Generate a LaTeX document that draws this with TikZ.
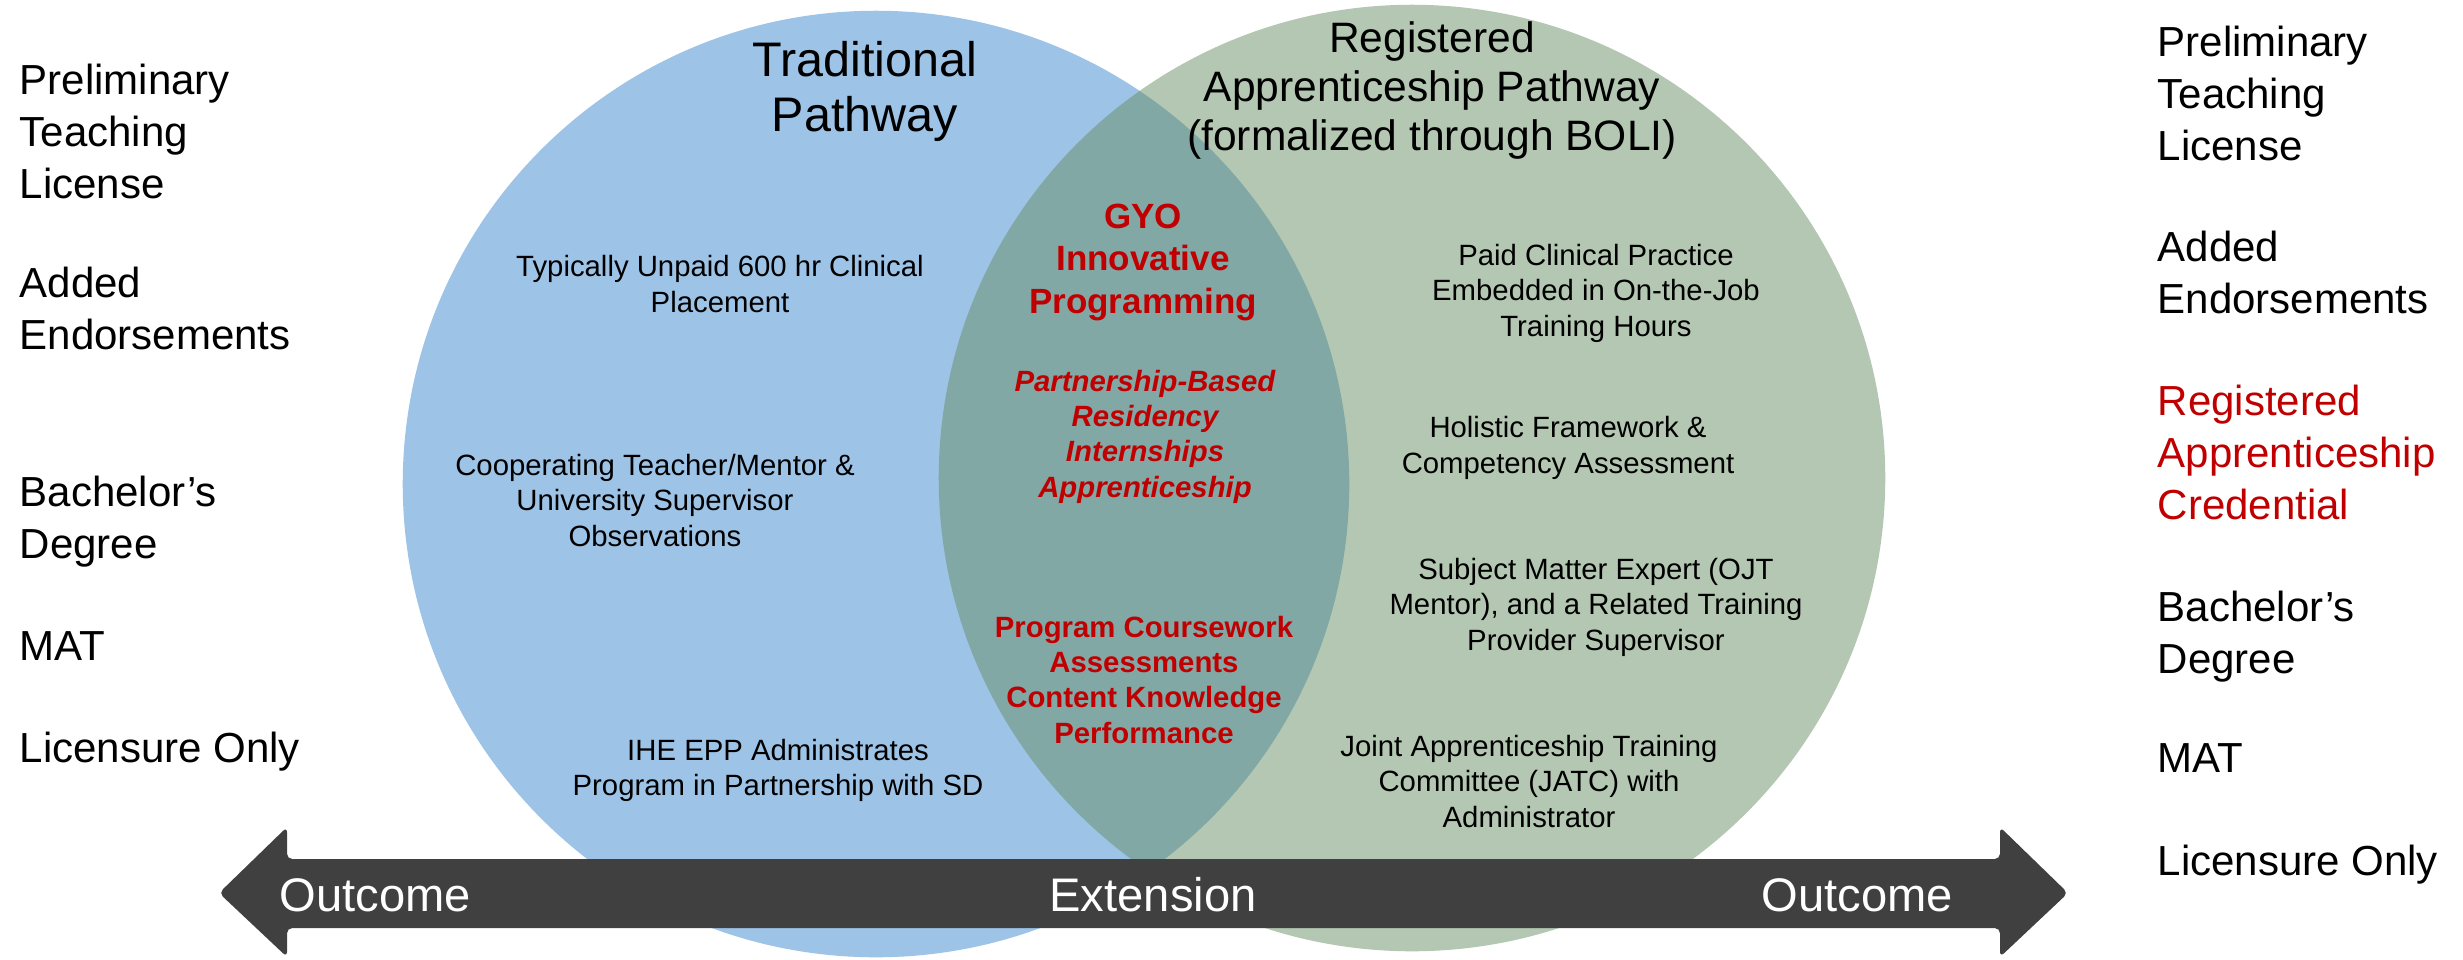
\documentclass[tikz,border=0pt]{standalone}
\usepackage{fontspec}
\setmainfont{Liberation Sans}
\usetikzlibrary{positioning}

\definecolor{tradblue}{RGB}{157,195,230}
\definecolor{appgreen}{RGB}{100,141,98}
\definecolor{gyored}{RGB}{192,0,0}
\definecolor{bandgray}{RGB}{64,64,64}

\tikzset{
  bodytext/.style={align=center, anchor=base, inner sep=0pt,
    font=\fontsize{8.34}{9.96}\selectfont},
  gyotext/.style={bodytext, text=gyored,
    font=\fontsize{8.34}{9.96}\selectfont\bfseries},
  sidelabel/.style={align=left, anchor=base west, inner sep=0pt,
    font=\fontsize{11.95}{14.65}\selectfont},
  bandtext/.style={anchor=base, inner sep=0pt, text=white,
    font=\fontsize{13.4}{16}\selectfont},
}

\begin{document}
\begin{tikzpicture}[x=0.01cm, y=-0.01cm]
    \useasboundingbox (0,0) rectangle (2463,959);
    % the two pathways
    \fill[tradblue] (876,484) circle[radius=4.73cm];
    \fill[appgreen, fill opacity=0.49] (1412,478) circle[radius=4.73cm];
    % outcome / extension band
    \fill[bandgray, rounded corners=1.5pt] (219,893) -- (287,827) -- (287,859)
      -- (2000,859) -- (2000,827) -- (2068,893) -- (2000,957) -- (2000,928)
      -- (287,928) -- (287,957) -- cycle;
    \node[bandtext, anchor=base west] (outleft) at (279,911) {Outcome};
    \node[bandtext] (extension) at (1153,911) {Extension};
    \node[bandtext, anchor=base west] (outright) at (1761,911) {Outcome};

    % titles (nodes sit on the baseline of their last line)
    \node[bodytext, font=\fontsize{13.8}{15.6}\selectfont] (tradtitle) at (865,131)
      {Traditional\\Pathway};
    \node[bodytext, font=\fontsize{12.1}{13.9}\selectfont] (regtitle) at (1432,150)
      {Registered\\Apprenticeship Pathway\\(formalized through BOLI)};

    % traditional side
    \node[bodytext] (unpaid) at (720,312) {Typically Unpaid 600 hr Clinical\\Placement};
    \node[bodytext] (mentor) at (655,546)
      {Cooperating Teacher/Mentor \&\\University Supervisor\\Observations};
    \node[bodytext] (ihe) at (778,795)
      {IHE EPP Administrates\\Program in Partnership with SD};

    % overlap
    \node[gyotext, font=\fontsize{9.96}{11.95}\selectfont\bfseries] (gyo) at (1143,313)
      {GYO\\Innovative\\Programming};
    \node[gyotext, font=\fontsize{8.34}{9.96}\selectfont\bfseries\itshape] (residency) at (1145,497)
      {Partnership-Based\\Residency\\Internships\\Apprenticeship};
    \node[gyotext] (coursework) at (1144,743)
      {Program Coursework\\Assessments\\Content Knowledge\\Performance};

    % apprenticeship side
    \node[bodytext] (paid) at (1596,336)
      {Paid Clinical Practice\\Embedded in On-the-Job\\Training Hours};
    \node[bodytext] (holistic) at (1568,473)
      {Holistic Framework \&\\Competency Assessment};
    \node[bodytext] (expert) at (1596,650)
      {Subject Matter Expert (OJT\\Mentor), and a Related Training\\Provider Supervisor};
    \node[bodytext] (jatc) at (1529,827)
      {Joint Apprenticeship Training\\Committee (JATC) with\\Administrator};

    % outcomes, left
    \node[sidelabel] (lprelim) at (19,198) {Preliminary\\Teaching\\License};
    \node[sidelabel] (ladded) at (19,349) {Added\\Endorsements};
    \node[sidelabel] (lbach) at (19,558) {Bachelor’s\\Degree};
    \node[sidelabel] (lmat) at (19,660) {MAT};
    \node[sidelabel] (llic) at (19,762) {Licensure Only};

    % outcomes, right
    \node[sidelabel] (rprelim) at (2157,160) {Preliminary\\Teaching\\License};
    \node[sidelabel] (radded) at (2157,313) {Added\\Endorsements};
    \node[sidelabel, text=gyored] (rcred) at (2157,519)
      {Registered\\Apprenticeship\\Credential};
    \node[sidelabel] (rbach) at (2157,673) {Bachelor’s\\Degree};
    \node[sidelabel] (rmat) at (2157,772) {MAT};
    \node[sidelabel] (rlic) at (2157,875) {Licensure Only};
\end{tikzpicture}
\end{document}
